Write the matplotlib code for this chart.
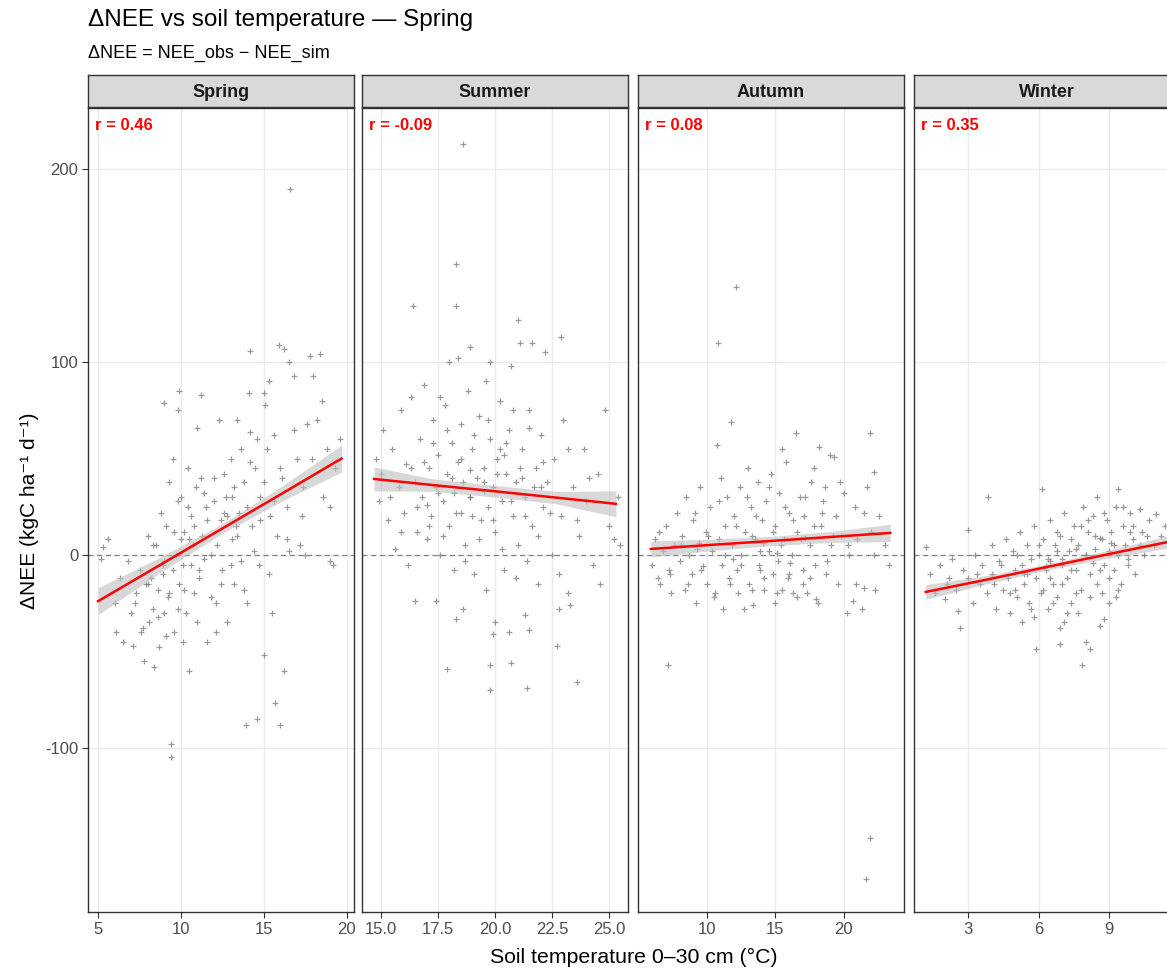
import matplotlib
matplotlib.use("Agg")
import matplotlib.pyplot as plt

plt.rcParams['font.family'] = ['Liberation Sans', 'DejaVu Sans']
plt.rcParams['axes.unicode_minus'] = False

# ---- data ----
seasons = ["Spring", "Summer", "Autumn", "Winter"]
r_values = ["0.46", "-0.09", "0.08", "0.35"]

spring_x = [5.2, 5.3, 5.6, 6.0, 6.1, 6.3, 6.5, 6.8, 7.0, 7.1, 7.3, 7.5, 7.6, 7.8, 7.9, 8.0, 8.1, 8.3, 8.4, 8.5,
            8.6, 8.7, 8.8, 8.9, 9.0, 9.0, 9.1, 9.2, 9.3, 9.4, 9.4, 9.5, 9.5, 9.6, 9.7, 9.8, 9.9, 9.9, 10.0, 10.1,
            10.2, 10.3, 10.4, 10.5, 10.6, 10.7, 10.8, 10.9, 11.0, 11.1, 11.2, 11.3, 11.5, 11.6, 11.8, 12.0, 12.1, 12.3, 12.4, 12.5,
            12.7, 12.8, 13.0, 13.1, 13.2, 13.4, 13.5, 13.6, 13.8, 13.9, 14.0, 14.1, 14.2, 14.2, 14.3, 14.5, 14.6, 14.7, 14.8, 15.0,
            15.0, 15.1, 15.2, 15.3, 15.4, 15.5, 15.6, 15.7, 15.8, 15.9, 16.0, 16.1, 16.2, 16.2, 16.4, 16.5, 16.6, 16.8, 17.0, 17.2,
            17.4, 17.6, 17.8, 18.0, 18.2, 18.4, 18.6, 18.8, 19.0, 19.3, 19.6, 16.5, 17.5, 19.2, 8.2, 9.8, 10.5, 11.4, 12.6, 13.3]
spring_y = [-2, 4, 8, -25, -40, -12, -45, -3, -30, -47, -20, -8, -40, -55, -15, 10, -35, -28, -58, 5,
            -18, -48, 22, -5, 79, -30, 15, -22, 38, -98, -105, -8, 50, -40, 0, 75, 85, -15, 30, -5,
            12, -30, 45, -60, 20, 5, -20, 35, 66, -12, 83, 10, 25, -45, 0, 40, -25, 70, 18, -8,
            30, -35, 50, 8, -15, 70, 22, -3, 38, -88, -25, 84, 64, 106, 15, 45, -85, -5, 30, 84,
            -52, 78, 55, 90, 20, -30, 62, -77, 10, 109, -88, 40, 107, -60, 25, 100, 190, 93, 50, 5,
            35, 68, 103, 93, 70, 104, 30, 55, -3, 45, 60, 2, 0, -5, -12, 28, 8, 32, 22, 15]
spring_core_x = [7.2, 7.7, 8.0, 8.3, 8.6, 8.9, 9.1, 9.3, 9.6, 9.8, 10.0, 10.2, 10.4, 10.6, 10.8, 11.0, 11.2, 11.4, 11.6, 11.8,
                 12.0, 12.2, 12.4, 12.6, 12.8, 13.0, 13.2, 13.4, 13.6, 13.8, 14.0, 14.2, 14.4, 14.6, 14.8, 15.0, 15.3, 15.6, 16.0, 16.4,
                 16.8, 17.3, 17.9, 18.5, 19.0, 9.0, 10.1, 11.1, 12.1, 13.1]
spring_core_y = [-25, -38, -15, 5, -32, -10, -42, -20, 12, -28, 8, -18, 25, -5, 15, -35, 40, -2, 18, -22,
                 28, 5, -15, 42, 20, -5, 35, 10, 55, -18, 25, 48, 2, 60, 18, 38, -10, 28, 45, 8,
                 65, 20, 50, 80, 25, -3, -45, -8, -40, 30]

summer_x = [14.8, 14.9, 15.0, 15.1, 15.3, 15.5, 15.6, 15.8, 15.9, 16.0, 16.1, 16.2, 16.3, 16.4, 16.5, 16.5, 16.6, 16.7, 16.8, 16.9,
            17.0, 17.1, 17.2, 17.3, 17.4, 17.4, 17.5, 17.6, 17.7, 17.8, 17.9, 17.9, 18.0, 18.0, 18.1, 18.2, 18.3, 18.3, 18.3, 18.4,
            18.4, 18.5, 18.5, 18.6, 18.6, 18.6, 18.7, 18.8, 18.9, 18.9, 19.0, 19.1, 19.2, 19.3, 19.4, 19.5, 19.6, 19.7, 19.8, 19.8,
            19.8, 19.8, 19.9, 19.9, 20.0, 20.0, 20.1, 20.2, 20.3, 20.4, 20.5, 20.6, 20.6, 20.7, 20.7, 20.8, 20.9, 21.0, 21.0, 21.1,
            21.2, 21.3, 21.3, 21.4, 21.5, 21.5, 21.6, 21.6, 21.8, 21.9, 22.0, 22.1, 22.2, 22.3, 22.5, 22.6, 22.7, 22.8, 22.9, 22.9,
            23.0, 23.2, 23.3, 23.4, 23.6, 23.7, 23.9, 24.0, 24.3, 24.5, 24.8, 25.0, 25.2, 25.4, 25.5, 17.0, 18.9, 19.5, 20.4, 21.2]
summer_y = [50, 28, 42, 65, 18, 55, 3, 35, 75, 22, 47, -5, 82, 129, -24, 38, 12, 60, 30, 88,
            8, 45, 20, 70, -24, 35, 52, 0, 28, 78, -59, 42, 100, 15, 58, 32, 151, 129, -33, 102,
            48, 22, 68, 213, -28, 38, 5, 85, 108, 30, 55, -10, 40, 72, 18, 45, 90, 25, -57, -70,
            100, 60, -41, 35, -35, 12, 50, 80, 28, -8, 42, -40, 65, 98, -56, 20, 38, 122, 5, 110,
            55, -31, 30, -69, -39, 75, 110, 15, 45, -15, 62, 25, 105, 38, 0, 50, -47, -28, 113, 20,
            70, -20, -26, 35, -66, 10, 55, 28, -5, 42, 75, 15, 8, 30, 5, 26, 44, 33, 52, 40]
summer_core_x = [16.6, 16.9, 17.1, 17.3, 17.5, 17.7, 17.9, 18.1, 18.3, 18.5, 18.7, 18.9, 19.1, 19.3, 19.5, 19.7, 19.9, 20.1, 20.3, 20.5,
                 20.7, 20.9, 21.1, 21.3, 21.5, 21.7, 21.9, 22.1, 22.4, 22.8, 23.2, 23.6, 24.1, 24.6, 15.4, 15.9, 16.3, 17.6, 18.2, 19.0,
                 19.6, 20.2, 20.8, 21.4, 22.0]
summer_core_y = [25, 48, 15, 58, 32, 10, 65, 40, 22, 50, -3, 30, 62, 8, 38, 70, 18, 42, 3, 58,
                 28, -12, 45, 20, 66, 35, 10, 48, 22, -10, 55, 18, 40, -15, 30, 12, 45, 82, -8, 20,
                 -18, 55, 75, -3, 35]

autumn_x = [6.0, 6.2, 6.4, 6.6, 6.8, 7.0, 7.15, 7.2, 7.4, 7.6, 7.8, 8.0, 8.2, 8.4, 8.5, 8.7, 8.9, 9.0, 9.2, 9.4,
            9.5, 9.7, 9.9, 10.0, 10.2, 10.4, 10.6, 10.7, 10.8, 10.9, 11.0, 11.1, 11.2, 11.3, 11.5, 11.6, 11.75, 11.8, 12.0, 12.1,
            12.2, 12.4, 12.5, 12.7, 12.8, 13.0, 13.1, 13.2, 13.4, 13.5, 13.7, 13.8, 14.0, 14.2, 14.3, 14.5, 14.7, 14.8, 15.0, 15.0,
            15.2, 15.3, 15.5, 15.6, 15.8, 15.9, 16.0, 16.2, 16.3, 16.5, 16.6, 16.8, 17.0, 17.1, 17.3, 17.5, 17.6, 17.8, 17.9, 18.0,
            18.2, 18.3, 18.5, 18.7, 19.0, 19.1, 19.3, 19.4, 19.6, 19.8, 20.0, 20.2, 20.4, 20.7, 20.8, 21.0, 21.3, 21.5, 21.6, 21.7,
            21.9, 21.9, 22.0, 22.2, 22.3, 22.6, 23.0, 23.3, 9.3, 11.9, 13.3, 14.1, 15.1, 16.1, 17.2]
autumn_y = [-5, 8, -12, -15, 2, 15, -57, -8, -20, 5, 22, -3, 10, -18, 30, 0, -10, 18, -25, 6,
            35, -6, 12, -15, 25, 2, -20, 57, 110, 8, 40, -5, -28, 15, 30, -12, 69, 5, 20, 139,
            -8, 35, 0, -28, 12, 45, -15, 25, -26, 8, 38, -5, 18, -18, 28, 2, 42, -10, -25, 15,
            -3, 32, 55, 8, 48, -12, 22, 0, -20, 63, 12, 30, -8, 20, -20, 5, 38, 45, -5, -23,
            56, 15, 28, -10, 52, 5, 51, 20, -15, 10, 32, -30, 0, -24, 25, 8, -28, -17, -168, 35,
            63, -147, 12, 43, -18, 20, 5, -5, 3, -2, 10, 6, 1, -4, 9]
autumn_core_x = [8.1, 8.6, 9.1, 9.6, 10.1, 10.5, 10.9, 11.3, 11.7, 12.1, 12.5, 12.9, 13.3, 13.6, 13.9, 14.2, 14.5, 14.8, 15.1, 15.4,
                 15.7, 16.0, 16.3, 16.6, 16.9, 17.2, 17.5, 17.8, 18.1, 18.4, 18.8, 19.2, 19.7, 20.3, 20.9, 21.5, 22.2, 7.3, 6.5, 12.3,
                 13.9, 15.5, 17.0, 18.6]
autumn_core_y = [5, -15, 22, -8, 10, -22, 28, 0, -15, 15, -5, 30, -18, 20, 2, -12, 35, 12, -20, 5,
                 25, -10, 18, -22, 8, 30, -12, 15, -25, 22, -3, 10, 38, 5, -15, 22, 0, -10, 12, -20,
                 -8, -18, -15, 35]

winter_x = [1.2, 1.4, 1.6, 1.8, 2.0, 2.1, 2.3, 2.5, 2.57, 2.66, 2.8, 3.0, 3.0, 3.2, 3.3, 3.5, 3.6, 3.8, 3.85, 4.0,
            4.0, 4.2, 4.3, 4.5, 4.6, 4.7, 4.8, 4.9, 5.0, 5.1, 5.2, 5.3, 5.3, 5.4, 5.5, 5.6, 5.7, 5.8, 5.9, 5.9,
            6.0, 6.1, 6.15, 6.2, 6.3, 6.4, 6.5, 6.5, 6.6, 6.7, 6.8, 6.9, 6.9, 6.9, 7.0, 7.1, 7.2, 7.3, 7.4, 7.5,
            7.6, 7.7, 7.8, 7.85, 7.9, 8.0, 8.0, 8.1, 8.2, 8.2, 8.3, 8.4, 8.5, 8.5, 8.6, 8.7, 8.8, 8.8, 8.9, 9.0,
            9.0, 9.1, 9.2, 9.3, 9.4, 9.4, 9.5, 9.6, 9.7, 9.8, 9.9, 10.0, 10.1, 10.3, 10.4, 10.5, 10.7, 10.9, 11.0, 11.2,
            11.4, 5.5, 6.3, 7.0, 7.6, 8.3, 9.1, 6.8, 7.4, 8.6]
winter_y = [4, -10, -20, -5, -23, -15, -2, -18, -29, -38, -8, 13, -12, -25, 0, -15, -5, -20, 30, 5,
            -10, -28, -3, -18, 8, -12, -30, 2, -8, -22, 12, -35, -5, -15, 5, -25, -2, 15, -49, -12,
            0, -20, 34, 8, -8, -28, 18, -3, -15, 5, -22, -46, -38, 10, -5, 22, -12, 2, -25, 15,
            -8, 5, -18, -57, 25, -45, 0, 12, -49, -10, 20, 3, 30, -15, -37, 8, -33, -5, 18, -25,
            2, 12, -8, 25, 34, 0, -15, 15, 5, -5, 22, 8, -10, 24, 12, 0, 18, 5, 21, 10,
            15, -10, -6, -2, 3, -4, 6, 2, -8, 9]
winter_core_x = [4.1, 4.4, 4.8, 5.1, 5.4, 5.7, 6.0, 6.2, 6.4, 6.6, 6.8, 7.0, 7.2, 7.4, 7.6, 7.8, 8.0, 8.2, 8.4, 8.6,
                 8.8, 9.0, 9.2, 9.4, 9.6, 9.8, 10.0, 10.3, 10.6, 5.0, 5.8, 6.5, 7.1, 7.7, 8.1, 8.7, 9.3, 9.9, 3.4, 2.2]
winter_core_y = [-15, -5, -20, 0, -10, -28, 5, -18, -2, -25, 12, -15, -30, 8, -20, 15, 0, -22, 10, -8,
                 22, -12, 5, -18, 25, -2, 15, 5, 10, -18, -32, -12, -35, -30, 18, -20, -22, 12, -10, -12]

points_x = [spring_x + spring_core_x, summer_x + summer_core_x,
            autumn_x + autumn_core_x, winter_x + winter_core_x]
points_y = [spring_y + spring_core_y, summer_y + summer_core_y,
            autumn_y + autumn_core_y, winter_y + winter_core_y]

# linear fit lines with confidence band (estimated at 5 positions)
fit_x = [[5.0, 8.5, 12.3, 16.0, 19.7],
         [14.7, 17.3, 20.0, 22.7, 25.3],
         [5.9, 10.3, 14.6, 19.0, 23.4],
         [1.2, 3.8, 6.3, 8.9, 11.5]]
fit_y = [[-24, -6.4, 12.7, 31.3, 50],
         [39.4, 36.2, 33.0, 29.7, 26.5],
         [3.1, 5.2, 7.2, 9.3, 11.4],
         [-19.2, -12.8, -6.4, 0.2, 6.7]]
fit_lo = [[-31, -10.5, 10.2, 27.5, 43],
          [33.2, 33.0, 30.0, 26.5, 19.8],
          [-1.0, 2.2, 4.8, 6.5, 6.9],
          [-23, -15, -8, -1.8, 3.5]]
fit_hi = [[-17, -2.3, 15.2, 35.1, 57],
          [45.6, 39.4, 36.0, 32.9, 33.2],
          [7.2, 8.2, 9.6, 12.1, 15.9],
          [-15.4, -10.6, -4.8, 2.2, 9.9]]

x_limits = [(4.39, 20.45), (14.17, 25.83), (4.96, 24.4), (0.70, 12.02)]
x_ticks = [[5, 10, 15, 20], [15.0, 17.5, 20.0, 22.5, 25.0], [10, 15, 20], [3, 6, 9]]
x_ticklabels = [["5", "10", "15", "20"], ["15.0", "17.5", "20.0", "22.5", "25.0"],
                ["10", "15", "20"], ["3", "6", "9"]]
y_ticks = [-100, 0, 100, 200]

# ---- figure ----
W, H = 1167, 971
fig = plt.figure(figsize=(W / 100, H / 100), dpi=100)

panel_left = [88, 362, 638, 914]
panel_w = 266
panel_top, panel_bot = 108, 912
strip_top = 75

for i, season in enumerate(seasons):
    l = panel_left[i] / W
    ax = fig.add_axes([l, 1 - panel_bot / H, panel_w / W, (panel_bot - panel_top) / H])
    ax.set_xlim(*x_limits[i])
    ax.set_ylim(-185.2, 231.8)
    ax.set_xticks(x_ticks[i])
    ax.set_xticklabels(x_ticklabels[i])
    ax.set_yticks(y_ticks)
    ax.grid(True, color='#EBEBEB', linewidth=0.9)
    ax.set_axisbelow(True)
    for sp in ax.spines.values():
        sp.set_color('#333333')
        sp.set_linewidth(1.0)
    ax.tick_params(axis='both', colors='#333333', length=4, width=0.8,
                   labelsize=12, labelcolor='#4D4D4D', pad=3)
    if i > 0:
        ax.tick_params(axis='y', left=False, labelleft=False)

    ax.axhline(0, color='#7F7F7F', linestyle=(0, (4, 3)), linewidth=0.9, zorder=1)
    ax.scatter(points_x[i], points_y[i], s=14, marker='+', color='#7A7A7A', alpha=0.75,
               linewidths=0.9, zorder=2)
    ax.fill_between(fit_x[i], fit_lo[i], fit_hi[i], color='#BEBEBE', alpha=0.6,
                    linewidth=0, zorder=3)
    ax.plot(fit_x[i], fit_y[i], color='red', linewidth=1.8, zorder=4)
    ax.text(0.025, 0.988, f"r = {r_values[i]}", transform=ax.transAxes, color='red',
            fontweight='bold', fontsize=12, ha='left', va='top')

    # facet strip
    sax = fig.add_axes([l, 1 - (panel_top - 1) / H, panel_w / W, (panel_top - 1 - strip_top) / H])
    sax.set_facecolor('#D9D9D9')
    sax.set_xticks([])
    sax.set_yticks([])
    for sp in sax.spines.values():
        sp.set_color('#333333')
        sp.set_linewidth(1.0)
    sax.text(0.5, 0.45, season, transform=sax.transAxes, ha='center', va='center',
             fontsize=13, fontweight='bold', color='#1A1A1A')

fig.text(88 / W, 1 - 20 / H, "ΔNEE vs soil temperature — Spring", fontsize=17.5,
         ha='left', va='center', color='black')
fig.text(88 / W, 1 - 53 / H, "ΔNEE = NEE_obs − NEE_sim", fontsize=13,
         ha='left', va='center', color='black')
fig.text(634 / W, 1 - 957 / H, "Soil temperature 0–30 cm (°C)", fontsize=15.3,
         ha='center', va='center')
fig.text(30 / W, 1 - 511 / H, "ΔNEE (kgC ha⁻¹ d⁻¹)", fontsize=15,
         rotation=90, ha='center', va='center')

fig.savefig("out.png", dpi=100)
